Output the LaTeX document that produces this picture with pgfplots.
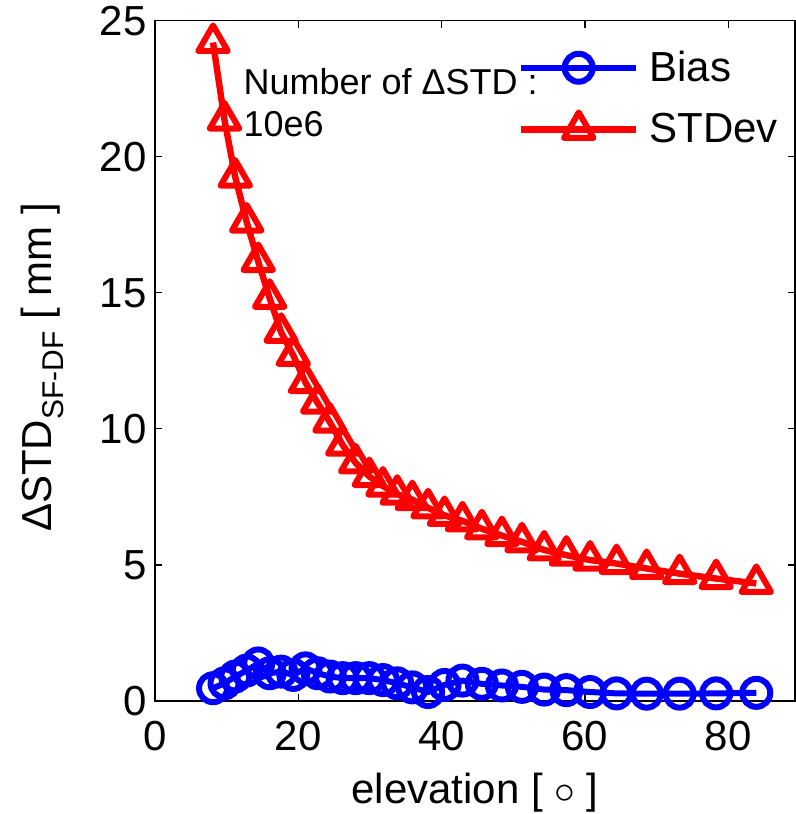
\documentclass[border=0pt]{standalone}
\usepackage{pgfplots}
\pgfplotsset{compat=1.18}
\usepackage{fontspec}
\setmainfont{Liberation Sans}
\begin{document}
\begin{tikzpicture}
\begin{axis}[
  scale only axis,
  width=320pt, height=340.15pt,
  xmin=0, xmax=89.3, ymin=0, ymax=25,
  xtick={0,20,40,60,80}, ytick={0,5,10,15,20,25},
  tick align=inside,
  major tick length=3.5pt,
  axis line style={line width=0.6pt},
  every tick/.style={black, line width=0.6pt},
  clip=false,
  /pgf/number format/assume math mode=true,
  ticklabel style={font=\fontsize{21}{25}\selectfont},
  xticklabel style={inner sep=0pt, anchor=north, yshift=-10pt},
  yticklabel style={inner sep=0pt, anchor=east, xshift=-4pt},
  xlabel={elevation [ $\circ$ ]},
  xlabel style={font=\fontsize{21}{25}\selectfont, at={(axis description cs:0.5,-0.1505)}, anchor=base, inner sep=0pt},
  ylabel={ΔSTD\raisebox{-6pt}{\fontsize{15}{16}\selectfont SF-DF} [ mm ]},
  ylabel style={font=\fontsize{21}{25}\selectfont, at={(axis description cs:-0.1616,0.49)}, rotate=0, anchor=base, inner sep=0pt},
  legend image code/.code={
    \draw[#1, mark=none] (0pt,0pt) -- (57.5pt,0pt);
    \draw[#1, only marks] plot coordinates {(28.75pt,0pt)};
  },
  legend cell align=left,
  legend style={at={(axis cs:50.6,23.9)}, anchor=north west, draw=none, fill=none,
    inner sep=0pt, font=\fontsize{21}{25}\selectfont,
    nodes={inner sep=0pt}, column sep=5pt, row sep=14pt},
]
\addplot[blue, line width=3pt, mark=o, mark size=7pt, mark options={line width=3pt, solid}] coordinates {
(8.1,0.47) (9.7,0.65) (11.2,0.9) (12.8,1.12) (14.4,1.38) (16.0,1.02) (17.6,1.08) (19.3,0.96)
(21.0,1.2) (22.7,1.02) (24.4,0.9) (26.2,0.84) (28.0,0.84) (29.9,0.84) (31.8,0.77) (33.8,0.65)
(35.9,0.5) (38.1,0.33) (40.4,0.59) (42.9,0.75) (45.6,0.63) (48.4,0.57) (51.2,0.52) (54.3,0.42)
(57.4,0.4) (60.7,0.33) (64.4,0.28) (68.6,0.27) (73.2,0.27) (78.3,0.28) (83.9,0.3)
};
\addlegendentry{Bias}
\addplot[red, line width=3.2pt, mark=triangle, mark size=8.5pt, mark options={line width=3pt, solid, line join=round}] coordinates {
(8.1,24.2) (9.7,21.35) (11.2,19.25) (12.8,17.6) (14.4,16.15) (16.0,14.8) (17.6,13.55) (19.3,12.7)
(21.0,11.7) (22.7,10.95) (24.4,10.25) (26.2,9.4) (28.0,8.75) (29.9,8.25) (31.8,7.9) (33.8,7.6)
(35.9,7.4) (38.1,7.1) (40.4,6.82) (42.9,6.62) (45.6,6.33) (48.4,6.08) (51.2,5.85) (54.3,5.55)
(57.4,5.36) (60.7,5.18) (64.4,5.05) (68.6,4.87) (73.2,4.68) (78.3,4.5) (83.9,4.32)
};
\addlegendentry{STDev}
\node[anchor=base west, inner sep=0pt, font=\fontsize{18}{20}\selectfont] at (axis cs:12.3,22.27) {Number of ΔSTD :};
\node[anchor=base west, inner sep=0pt, font=\fontsize{18}{20}\selectfont] at (axis cs:12.3,20.74) {10e6};
\end{axis}
\pgfresetboundingbox
\path[use as bounding box] ([xshift=-77.5pt,yshift=-56.5pt]current axis.south west) rectangle ([xshift=0.5pt,yshift=10.35pt]current axis.north east);
\end{tikzpicture}
\end{document}
